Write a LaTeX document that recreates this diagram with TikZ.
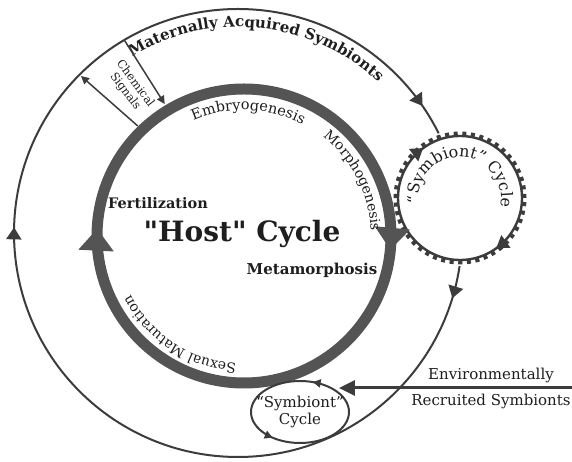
\documentclass[tikz,border=0pt]{standalone}
\usepackage{fontspec}
\setmainfont{DejaVu Serif}[Ligatures=TeXOff]
\usetikzlibrary{positioning,arrows.meta,calc,decorations.markings,decorations.text,shapes.geometric}
\definecolor{ringgray}{HTML}{545454}
\definecolor{linegray}{HTML}{3C3C3C}
\definecolor{inkgray}{HTML}{1E1E1E}

\begin{document}
\begin{tikzpicture}[x=1pt,y=1pt, inkgray,
  bigtip/.tip={Triangle[length=22pt,width=34pt]},
  smalltip/.tip={Triangle[length=12pt,width=15pt]},
  tinytip/.tip={Triangle[length=8pt,width=8pt]},
  midarrows/.style={postaction={decorate,decoration={markings,#1}}},
  outerring/.style={draw=linegray,line width=2pt},
  hostring/.style={draw=ringgray,line width=11pt},
  symring/.style={draw=linegray,line width=2.4pt},
  chemline/.style={draw=linegray,line width=1.5pt,-{Triangle[length=8pt,width=8pt]}},
  envline/.style={draw=linegray,line width=3pt,-{Triangle[length=16pt,width=15pt]}},
  ringtext/.style={decorate,decoration={text along path,text align=center,text color=inkgray,text={#1}}}]
  \useasboundingbox (0,0) rectangle (572,462);
  \coordinate (outc) at (238,229);
  \coordinate (hostc) at (244,226);
  \coordinate (symc) at (460,264);

  \draw[outerring, midarrows={mark=at position 0.047 with {\arrow{smalltip}},
      mark=at position 0.504 with {\arrow{smalltip}},
      mark=at position 0.904 with {\arrow{smalltip}}}]
    ($(outc)+(0:224)$) arc[start angle=0,end angle=-360,radius=224];
  \path[ringtext={|\fontsize{15}{15}\selectfont\bfseries|Maternally Acquired Symbionts}]
    ($(outc)+(130:206)$) arc[start angle=130,end angle=38,radius=206];

  \fill[white] (symc) circle[radius=68];
  \draw[linegray,line width=6pt,dash pattern=on 4pt off 4.5pt] (symc) circle[radius=63.5];
  \draw[symring,fill=white, midarrows={mark=at position 0.151 with {\arrow{smalltip}},
      mark=at position 0.649 with {\arrow{smalltip}}}]
    ($(symc)+(0:62)$) arc[start angle=0,end angle=-360,radius=62];
  \path[ringtext={|\fontsize{16}{16}\selectfont|“Symbiont” Cycle}]
    ($(symc)+(198:41)$) arc[start angle=198,end angle=-24,radius=41];

  \draw[hostring, midarrows={mark=at position 0.015 with {\arrow{bigtip}},
      mark=at position 0.508 with {\arrow{bigtip}}}]
    ($(hostc)+(0:147)$) arc[start angle=0,end angle=-360,radius=147];
  \path[ringtext={|\fontsize{14.5}{14.5}\selectfont|Embryogenesis}]
    ($(hostc)+(124:126)$) arc[start angle=124,end angle=52,radius=126];
  \path[ringtext={|\fontsize{14}{14}\selectfont|Morphogenesis}]
    ($(hostc)+(64:127)$) arc[start angle=64,end angle=-10,radius=127];
  \path[ringtext={|\fontsize{14}{14}\selectfont|Sexual Maturation}]
    ($(hostc)+(276:128)$) arc[start angle=276,end angle=198,radius=128];

  \coordinate (chemin) at ($(hostc)+(134:153)$);
  \coordinate (chemout) at ($(outc)+(135:222)$);
  \coordinate (sigout) at ($(outc)+(120.5:223)$);
  \coordinate (sigin) at ($(hostc)+(121:154)$);
  \draw[chemline] (chemin) -- (chemout);
  \draw[chemline] (sigout) -- (sigin);
  \node[rotate=-53,align=center,inner sep=0pt,font=\fontsize{11.5}{12.5}\selectfont] (chem) at ($(hostc)+(127.5:187)$) {Chemical\\Signals};

  \node[font=\fontsize{28}{28}\selectfont\bfseries] (host) at (242,228) {"Host" Cycle};
  \node[font=\fontsize{14.5}{14.5}\selectfont\bfseries] (fert) at (158,259) {Fertilization};
  \node[font=\fontsize{15}{15}\selectfont\bfseries] (meta) at (312,192) {Metamorphosis};

  \draw[symring,line width=2pt, midarrows={mark=at position 0.2 with {\arrow{tinytip}},
      mark=at position 0.64 with {\arrow{tinytip}}}]
    (300,50) ellipse[x radius=49,y radius=31];
  \node[ellipse,minimum width=98pt,minimum height=62pt,align=center,
    font=\fontsize{15}{17}\selectfont] (botsym) at (300,50) {“Symbiont”\\Cycle};
  \coordinate (envend) at (572,74);
  \draw[envline] (envend) -- (envend -| botsym.33);
  \node[font=\fontsize{15}{15}\selectfont] (envtop) at (491,87) {Environmentally};
  \node[font=\fontsize{15}{15}\selectfont] (envbot) at (491,61) {Recruited Symbionts};
\end{tikzpicture}
\end{document}
